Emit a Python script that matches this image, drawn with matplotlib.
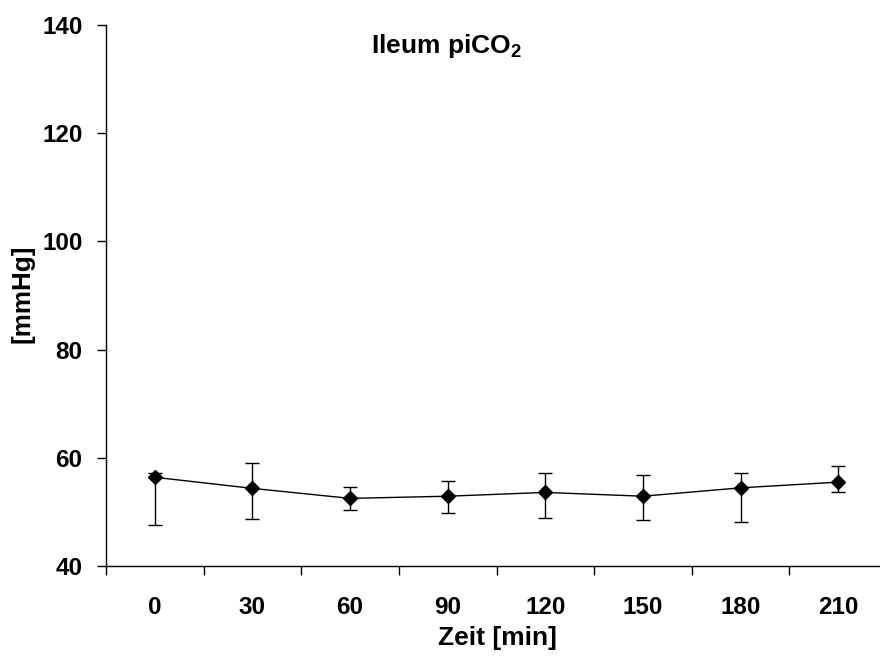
import matplotlib
matplotlib.use("Agg")
import matplotlib.pyplot as plt
import numpy as np
from matplotlib.ticker import FixedLocator, NullFormatter, FixedFormatter

plt.rcParams['font.family'] = ['Liberation Sans', 'DejaVu Sans']
plt.rcParams['font.weight'] = 'bold'
plt.rcParams['mathtext.fontset'] = 'custom'
plt.rcParams['mathtext.rm'] = 'Liberation Sans:bold'
plt.rcParams['mathtext.bf'] = 'Liberation Sans:bold'
plt.rcParams['mathtext.default'] = 'rm'

categories = ["0", "30", "60", "90", "120", "150", "180", "210"]
means = [56.4, 54.35, 52.5, 52.9, 53.6, 52.9, 54.45, 55.5]
upper = [57.2, 59.0, 54.65, 55.75, 57.2, 56.9, 57.15, 58.4]
lower = [47.55, 48.7, 50.35, 49.85, 48.9, 48.5, 48.05, 53.65]
yticks = [40, 60, 80, 100, 120, 140]

fig = plt.figure(figsize=(8.8, 6.57), dpi=100)
ax = fig.add_axes([106/880, 91/657, 781/880, 541/657])

x = np.arange(len(categories))
m = np.array(means)
yerr = np.vstack([m - np.array(lower), np.array(upper) - m])

ax.errorbar(x, m, yerr=yerr, fmt='none', ecolor='black', elinewidth=1.0,
            capsize=5, capthick=1.0, zorder=2)
ax.plot(x, m, color='black', linewidth=1.0, marker='D', markersize=7.2,
        markerfacecolor='black', markeredgecolor='black', zorder=3)

ax.set_xlim(-0.5, len(categories) - 0.5)
ax.set_ylim(40, 140)

ax.xaxis.set_major_locator(FixedLocator(np.arange(-0.5, len(categories), 1.0)))
ax.xaxis.set_major_formatter(NullFormatter())
ax.xaxis.set_minor_locator(FixedLocator(x))
ax.xaxis.set_minor_formatter(FixedFormatter(categories))
ax.tick_params(axis='x', which='major', direction='out', length=6.5, width=1, color='black')
ax.tick_params(axis='x', which='minor', length=0, pad=21.5, labelsize=17.5)

ax.set_yticks(yticks)
ax.set_yticklabels([str(v) for v in yticks])
ax.tick_params(axis='y', direction='out', length=6.5, width=1, pad=10.5, labelsize=17.5)

for lbl in ax.get_xticklabels(minor=True) + ax.get_yticklabels():
    lbl.set_fontweight('bold')

ax.spines['top'].set_visible(False)
ax.spines['right'].set_visible(False)
ax.spines['left'].set_linewidth(1.0)
ax.spines['bottom'].set_linewidth(1.0)
ax.spines['bottom'].set_clip_on(False)

fig.text(497/880, 1 - 645/657, 'Zeit [min]', fontsize=19, fontweight='bold',
         ha='center', va='baseline')
fig.text(23/880, 1 - 294/657, '[mmHg]', rotation=90, fontsize=18.7, fontweight='bold',
         ha='center', va='center')

fig.text(446/880, 1 - 53/657, r'Ileum piCO$_2$', fontsize=19, fontweight='bold',
         ha='center', va='baseline')

fig.savefig('out.png', dpi=100)
